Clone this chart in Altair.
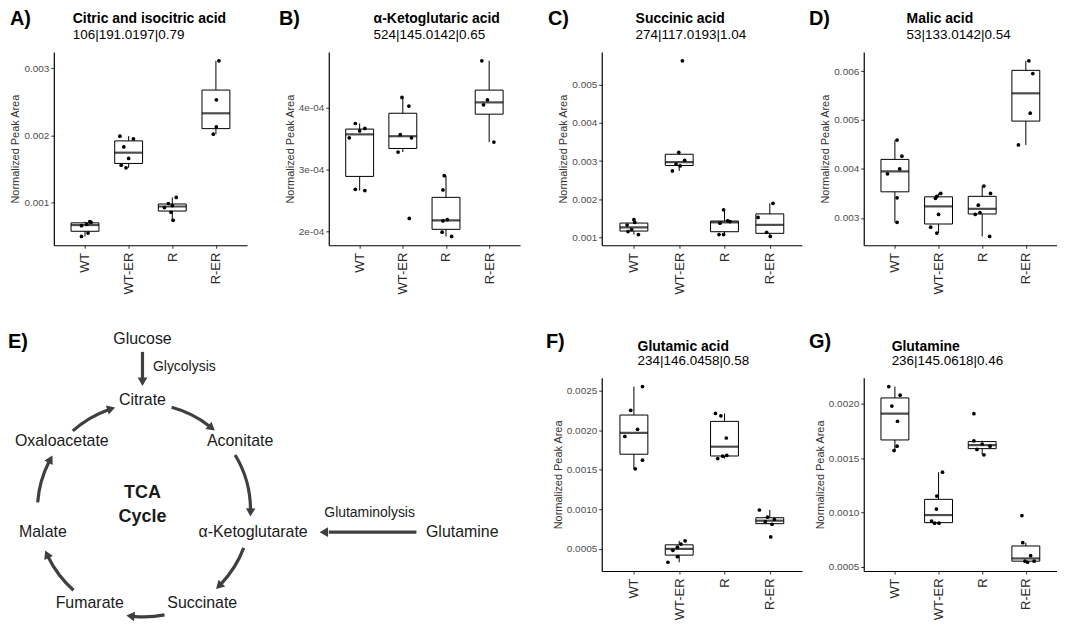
import altair as alt
import numpy as np
import pandas as pd

FONT = "Liberation Sans"
groups = ["WT", "WT-ER", "R", "R-ER"]

# ---------------- data ----------------
# A) Citric and isocitric acid
a_vals = {"WT": [0.00050, 0.00055, 0.00066, 0.00068, 0.00071, 0.00072],
          "WT-ER": [0.00152, 0.00156, 0.00166, 0.00183, 0.00195, 0.00199],
          "R": [0.00074, 0.00086, 0.00093, 0.00096, 0.00099, 0.00108],
          "R-ER": [0.00202, 0.00213, 0.00253, 0.00311]}
a_jit = {"WT": [-0.08, 0.07, -0.08, 0.04, 0.14, 0.11],
         "WT-ER": [-0.06, -0.17, 0.0, -0.11, 0.11, -0.2],
         "R": [0.02, -0.03, -0.18, 0.0, -0.09, 0.09],
         "R-ER": [-0.06, 0.01, 0.01, 0.07]}
a_ticks = [0.001, 0.002, 0.003]

# B) alpha-Ketoglutaric acid
b_vals = {"WT": [2.66e-4, 2.68e-4, 3.51e-4, 3.62e-4, 3.66e-4, 3.74e-4],
          "WT-ER": [2.21e-4, 3.28e-4, 3.51e-4, 3.56e-4, 4.02e-4, 4.16e-4],
          "R": [1.92e-4, 1.99e-4, 2.17e-4, 2.19e-4, 2.67e-4, 2.90e-4],
          "R-ER": [3.44e-4, 4.04e-4, 4.12e-4, 4.75e-4]}
b_jit = {"WT": [0.12, -0.1, -0.24, 0.0, 0.12, -0.1],
         "WT-ER": [0.15, -0.11, 0.2, -0.06, 0.14, -0.02],
         "R": [0.13, -0.09, -0.07, 0.03, -0.07, -0.04],
         "R-ER": [0.11, -0.13, -0.04, -0.17]}
b_ticks = [2e-4, 3e-4, 4e-4]

# C) Succinic acid
c_vals = {"WT": [0.00107, 0.00115, 0.00120, 0.00132, 0.00139, 0.00146],
          "WT-ER": [0.00274, 0.00287, 0.00292, 0.00302, 0.00323, 0.00563],
          "R": [0.00107, 0.00107, 0.00137, 0.00141, 0.00143, 0.00172],
          "R-ER": [0.00102, 0.00113, 0.00152, 0.00189]}
c_jit = {"WT": [0.1, -0.13, -0.05, -0.15, 0.02, 0.0],
         "WT-ER": [-0.15, 0.02, -0.07, 0.12, -0.01, 0.07],
         "R": [-0.12, -0.02, -0.1, 0.12, 0.07, -0.02],
         "R-ER": [0.01, -0.07, -0.26, 0.07]}
c_ticks = [0.001, 0.002, 0.003, 0.004, 0.005]

# D) Malic acid
d_vals = {"WT": [0.00291, 0.00341, 0.00390, 0.00400, 0.00426, 0.00459],
          "WT-ER": [0.00269, 0.00281, 0.00307, 0.00340, 0.00344, 0.00350],
          "R": [0.00262, 0.00307, 0.00311, 0.00326, 0.00350, 0.00365],
          "R-ER": [0.00449, 0.00514, 0.00595, 0.00621]}
d_jit = {"WT": [0.05, 0.05, -0.17, 0.11, 0.16, 0.05],
         "WT-ER": [-0.04, -0.18, 0.0, -0.07, -0.04, 0.05],
         "R": [0.17, -0.16, -0.05, -0.09, 0.19, 0.04],
         "R-ER": [-0.17, 0.1, 0.16, 0.07]}
d_ticks = [0.003, 0.004, 0.005, 0.006]

# F) Glutamic acid
f_vals = {"WT": [0.00151, 0.00162, 0.00192, 0.00201, 0.00225, 0.00255],
          "WT-ER": [0.00033, 0.00040, 0.00048, 0.00052, 0.00056, 0.00060],
          "R": [0.00164, 0.00167, 0.00168, 0.00190, 0.00218, 0.00221],
          "R-ER": [0.00065, 0.00081, 0.00084, 0.00087, 0.00090, 0.00099]}
f_jit = {"WT": [0.03, 0.19, -0.2, 0.08, -0.07, 0.19],
         "WT-ER": [-0.25, -0.04, -0.14, -0.04, 0.04, 0.13],
         "R": [-0.15, -0.04, 0.05, 0.04, -0.08, -0.2],
         "R-ER": [0.02, 0.05, -0.1, 0.1, -0.05, -0.23]}
f_ticks = [0.0005, 0.0010, 0.0015, 0.0020, 0.0025]

# G) Glutamine
g_vals = {"WT": [0.00157, 0.00161, 0.00184, 0.00198, 0.00208, 0.00216],
          "WT-ER": [0.00090, 0.00090, 0.00092, 0.00103, 0.00115, 0.00137],
          "R": [0.00153, 0.00158, 0.00161, 0.00163, 0.00166, 0.00191],
          "R-ER": [0.00054, 0.00055, 0.00055, 0.00060, 0.00072, 0.00097]}
g_jit = {"WT": [-0.02, 0.05, 0.06, -0.07, 0.12, -0.14],
         "WT-ER": [-0.09, 0.01, -0.16, -0.05, -0.04, 0.09],
         "R": [0.04, -0.12, 0.18, 0.0, -0.19, -0.19],
         "R-ER": [0.04, -0.02, 0.19, 0.11, -0.07, -0.09]}
g_ticks = [0.0005, 0.0010, 0.0015, 0.0020]

# E) TCA cycle diagram (schematic, in the figure's pixel frame)
e_nodes = ["Glucose", "Citrate", "Aconitate", "Oxaloacetate", "Malate",
           "α-Ketoglutarate", "Glutamine", "Fumarate", "Succinate"]
e_node_x = [143, 143, 241, 62, 43, 254, 464, 90, 203]
e_node_y = [338, 399, 440, 440, 532, 532, 532, 603, 603]
e_small = ["Glycolysis", "Glutaminolysis"]
e_small_x = [185, 371]
e_small_y = [366, 513]
e_bold = ["TCA", "Cycle"]
e_bold_x = [143, 143]
e_bold_y = [493, 517]
arc_start_deg = [15.0, 58.8, 110.7, 168.9, 221.4, 274.3, 318.1]
arc_end_deg = [41.9, 93.7, 137.8, 189.8, 248.1, 301.2, 344.6]
cycle_cx, cycle_cy, cycle_r = 144.5, 510.0, 107.0
line_x1 = [143, 418]
line_y1 = [351, 532]
line_x2 = [143, 330]
line_y2 = [378, 532]
head_x = [143, 325]
head_y = [381, 532]
head_angle = [180, 270]

ARROW = "#3f3f3f"
TXT = "#1a1a1a"


def text_layer(txt, x, y, size, weight="normal", align="left", color="black"):
    return alt.Chart(pd.DataFrame({"t": [txt]})).mark_text(
        font=FONT, fontSize=size, fontWeight=weight, align=align,
        baseline="alphabetic", color=color
    ).encode(text="t:N", x=alt.value(x), y=alt.value(y))


def box_panel(vals, jit, letter, title, subtitle, ticks, label_expr, width, height,
              letter_x, letter_y, title_x, title_y, sub_y):
    rows = []
    srows = []
    for gi, g in enumerate(groups):
        for v, j in zip(vals[g], jit[g]):
            rows.append({"g": gi + 1, "v": v, "j": j})
        a = np.array(vals[g])
        q1, md, q3 = np.percentile(a, [25, 50, 75])
        iqr = q3 - q1
        lo = a[a >= q1 - 1.5 * iqr].min()
        hi = a[a <= q3 + 1.5 * iqr].max()
        srows.append({"g": gi + 1, "q1": q1, "md": md, "q3": q3, "lo": lo, "hi": hi})
    pts = pd.DataFrame(rows)
    st = pd.DataFrame(srows)
    vmin, vmax = pts["v"].min(), pts["v"].max()
    pad = 0.05 * (vmax - vmin)
    xs = alt.Scale(domain=[0.4, 4.6], nice=False, zero=False)
    ys = alt.Scale(domain=[vmin - pad, vmax + pad], nice=False, zero=False)
    xaxis = alt.Axis(values=[1, 2, 3, 4],
                     labelExpr="['WT','WT-ER','R','R-ER'][datum.value - 1]",
                     labelAngle=270, labelFontSize=13, labelColor="#2b2b2b",
                     labelPadding=4, title=None, grid=False, tickSize=3,
                     tickColor="#333333", domainColor="black", domainWidth=1.2,
                     labelFont=FONT)
    yaxis = alt.Axis(values=ticks, labelExpr=label_expr, title="Normalized Peak Area",
                     titleFontSize=11, titleFontWeight="normal", titleColor="#333333",
                     titlePadding=3, titleFont=FONT,
                     labelFontSize=10, labelColor="#4d4d4d", labelPadding=2,
                     labelFont=FONT, grid=False, tickSize=3, tickColor="#333333",
                     domainColor="black", domainWidth=1.2)
    X = alt.X("g:Q", scale=xs, axis=xaxis)
    whisk = alt.Chart(st).mark_rule(color="black", strokeWidth=1).encode(
        x=X, y=alt.Y("lo:Q", scale=ys, axis=yaxis), y2="hi:Q")
    box = alt.Chart(st).mark_bar(size=28, fill="white", stroke="black", strokeWidth=1).encode(
        x=X, y=alt.Y("q1:Q", scale=ys, axis=yaxis), y2="q3:Q")
    med = alt.Chart(st).mark_tick(orient="horizontal", size=28, thickness=2.2, color="black").encode(
        x=X, y=alt.Y("md:Q", scale=ys, axis=yaxis))
    dots = alt.Chart(pts).transform_calculate(xj="datum.g + datum.j").mark_circle(
        size=14, color="black", opacity=1).encode(
        x=alt.X("xj:Q", scale=xs, axis=xaxis), y=alt.Y("v:Q", scale=ys, axis=yaxis))
    lt = text_layer(letter, letter_x, letter_y, 20, "bold")
    tt = text_layer(title, title_x, title_y, 14, "bold")
    stt = text_layer(subtitle, title_x, sub_y, 13.5, "normal")
    return alt.layer(whisk, box, med, dots, lt, tt, stt).properties(width=width, height=height)


FIX3 = "format(datum.value, '.3f')"
FIX4 = "format(datum.value, '.4f')"
SCI = "replace(format(datum.value, '.0e'), 'e-', 'e-0')"

A = box_panel(a_vals, a_jit, "A)", "Citric and isocitric acid", "106|191.0197|0.79",
              a_ticks, FIX3, 194, 194, -44, -27, 19, -29, -13)
B = box_panel(b_vals, b_jit, "B)", "α-Ketoglutaric acid", "524|145.0142|0.65",
              b_ticks, SCI, 192, 194, -50, -27, 45, -29, -13)
C = box_panel(c_vals, c_jit, "C)", "Succinic acid", "274|117.0193|1.04",
              c_ticks, FIX3, 201, 194, -54, -27, 34, -29, -13)
D = box_panel(d_vals, d_jit, "D)", "Malic acid", "53|133.0142|0.54",
              d_ticks, FIX3, 194, 194, -55, -27, 43, -29, -13)
F = box_panel(f_vals, f_jit, "F)", "Glutamic acid", "234|146.0458|0.58",
              f_ticks, FIX4, 201, 194, -56, -30, 36, -27, -13)
G = box_panel(g_vals, g_jit, "G)", "Glutamine", "236|145.0618|0.46",
              g_ticks, FIX4, 194, 194, -55, -30, 28, -27, -13)

# ---------------- E) diagram ----------------
exs = alt.Scale(domain=[54, 248], nice=False, zero=False)
eys = alt.Scale(domain=[377, 571], nice=False, zero=False, reverse=True)


def ex(f):
    return alt.X(f, scale=exs, axis=None)


def ey(f):
    return alt.Y(f, scale=eys, axis=None)


nodes = alt.Chart(pd.DataFrame({"t": e_nodes, "x": e_node_x, "y": e_node_y})).mark_text(
    font=FONT, fontSize=16, color=TXT, align="center", baseline="middle").encode(
    x=ex("x:Q"), y=ey("y:Q"), text="t:N")
smalls = alt.Chart(pd.DataFrame({"t": e_small, "x": e_small_x, "y": e_small_y})).mark_text(
    font=FONT, fontSize=14, color=TXT, align="center", baseline="middle").encode(
    x=ex("x:Q"), y=ey("y:Q"), text="t:N")
bolds = alt.Chart(pd.DataFrame({"t": e_bold, "x": e_bold_x, "y": e_bold_y})).mark_text(
    font=FONT, fontSize=18, fontWeight="bold", color=TXT, align="center", baseline="middle").encode(
    x=ex("x:Q"), y=ey("y:Q"), text="t:N")
eletter = alt.Chart(pd.DataFrame({"t": ["E)"], "x": [8], "y": [347]})).mark_text(
    font=FONT, fontSize=20, fontWeight="bold", color="black", align="left", baseline="alphabetic").encode(
    x=ex("x:Q"), y=ey("y:Q"), text="t:N")

arc_df = pd.DataFrame({"s": arc_start_deg, "e": arc_end_deg})
arc_df["cx"] = cycle_cx
arc_df["cy"] = cycle_cy
arc_df["r"] = cycle_r
arcs = alt.Chart(arc_df).transform_calculate(
    t0="datum.s * PI / 180", t1="(datum.e - 4) * PI / 180").mark_arc(color=ARROW).encode(
    x=ex("cx:Q"), y=ey("cy:Q"),
    theta=alt.Theta("t0:Q", scale=None, stack=None), theta2="t1:Q",
    radius=alt.value(cycle_r + 1.6), radius2=alt.value(cycle_r - 1.6))
arc_heads = alt.Chart(arc_df).transform_calculate(
    te="(datum.e - 2.5) * PI / 180").transform_calculate(
    hx="datum.cx + datum.r * sin(datum.te)",
    hy="datum.cy - datum.r * cos(datum.te)",
    ang="(datum.e - 2.5 + 90) % 360").mark_point(
    shape="triangle-up", filled=True, size=90, color=ARROW, opacity=1).encode(
    x=ex("hx:Q"), y=ey("hy:Q"), angle=alt.Angle("ang:Q", scale=None))
lines = alt.Chart(pd.DataFrame({"x1": line_x1, "y1": line_y1, "x2": line_x2, "y2": line_y2})).mark_rule(
    color=ARROW, strokeWidth=3.2).encode(x=ex("x1:Q"), y=ey("y1:Q"), x2="x2:Q", y2="y2:Q")
heads = alt.Chart(pd.DataFrame({"x": head_x, "y": head_y, "a": head_angle})).mark_point(
    shape="triangle-up", filled=True, size=95, color=ARROW, opacity=1).encode(
    x=ex("x:Q"), y=ey("y:Q"), angle=alt.Angle("a:Q", scale=None))

E = alt.layer(arcs, arc_heads, lines, heads, nodes, smalls, bolds, eletter).properties(width=194, height=194)


def blank(w):
    return alt.Chart(pd.DataFrame({"z": [0]})).mark_point(opacity=0).encode(
        x=alt.value(0), y=alt.value(0)).properties(width=w, height=1)


chart = alt.concat(
    A, blank(42), B, blank(42), C, blank(22), D,
    E, blank(42), blank(1), blank(1), F, blank(22), G,
    columns=7, spacing={"row": 133, "column": 20}, bounds="flush"
).properties(padding=0).configure(font=FONT).configure_view(stroke="transparent", strokeOpacity=0)

chart.save("out.html", embed_options={"renderer": "svg", "actions": False})
